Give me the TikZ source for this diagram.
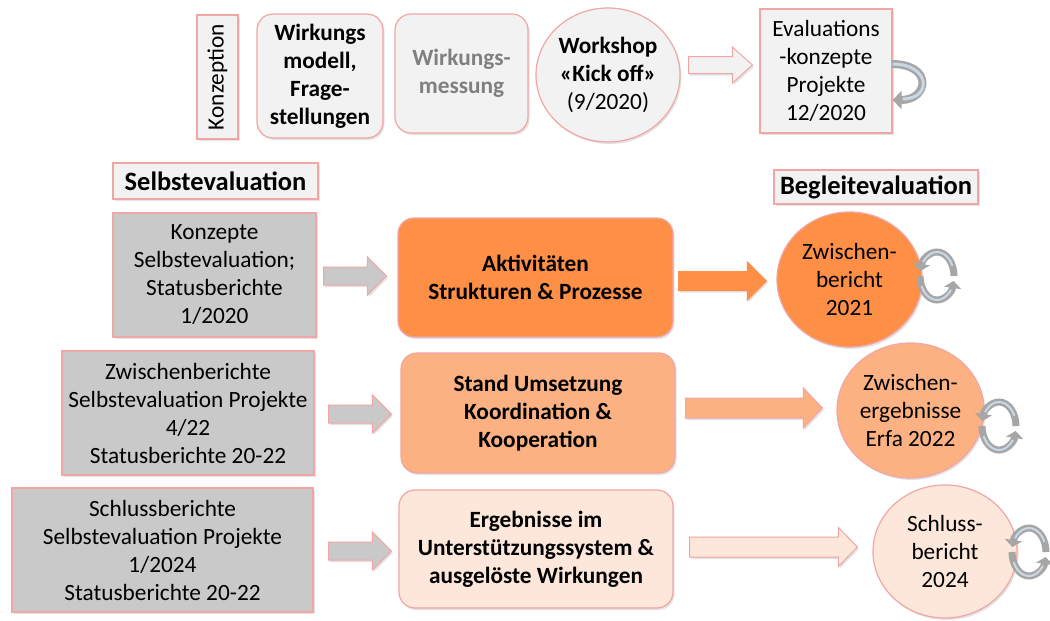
\documentclass[tikz,border=0pt]{standalone}
\usepackage{fontspec}
\setmainfont{Carlito}
\usetikzlibrary{shapes.geometric,shadows,arrows.meta,calc}
\definecolor{pinkc}{HTML}{F2A5A5}
\definecolor{lgray}{HTML}{F2F2F2}
\definecolor{mgray}{HTML}{C9C9C9}
\definecolor{orA}{HTML}{FD8F46}
\definecolor{orB}{HTML}{FBB182}
\definecolor{orC}{HTML}{FDE7DA}
\definecolor{txtgray}{HTML}{7F7F7F}
\definecolor{cycc}{HTML}{A6A6A6}
\definecolor{cycin}{HTML}{C8D8E6}
\tikzset{
  shd/.style={drop shadow={opacity=0.22, shadow xshift=1.5pt, shadow yshift=-2pt}},
  base/.style={draw=pinkc, line width=1.2pt, align=center, text=black,
    font=\fontsize{23.3}{28}\selectfont, inner sep=0pt, shd},
  sqbox/.style={base, rectangle},
  rbox/.style={base, rectangle, rounded corners=16pt},
  oval/.style={base, ellipse},
  headbox/.style={base, fill=lgray, font=\fontsize{26.5}{32}\selectfont\bfseries},
  barrow/.style={draw=pinkc, line width=1pt, shd},
  cycarrow/.style={draw=cycc, line width=7pt, -{Triangle[width=17pt,length=7pt]}},
}
\newcommand{\blockarr}[6]{%
  \path[#1] let \p1=#2, \p2=#3 in
   (\x1,\y1+#4pt) -- (\x2-#6pt,\y1+#4pt) -- (\x2-#6pt,\y1+#5pt) -- (\x2,\y1)
   -- (\x2-#6pt,\y1-#5pt) -- (\x2-#6pt,\y1-#4pt) -- (\x1,\y1-#4pt) -- cycle;}
\newcommand{\cycleicon}[1]{%
  \begin{scope}[shift={#1}, x=1pt, y=1pt]
    \draw[cycarrow] (0:17pt and 24pt) arc[start angle=0, end angle=168, x radius=17pt, y radius=24pt];
    \draw[cycarrow] (180:17pt and 24pt) arc[start angle=180, end angle=348, x radius=17pt, y radius=24pt];
    \draw[cycin, line width=2pt] (25:17pt and 24pt) arc[start angle=25, end angle=145, x radius=17pt, y radius=24pt];
    \draw[cycin, line width=2pt] (205:17pt and 24pt) arc[start angle=205, end angle=325, x radius=17pt, y radius=24pt];
  \end{scope}}
\begin{document}
\begin{tikzpicture}[x=1pt,y=-1pt]
\path[use as bounding box, fill=white] (0,0) rectangle (1050,621);

% top row
\node[sqbox, fill=lgray, rotate=90, minimum width=124, minimum height=41] (konz) at (217.5,77) {Konzeption};
\node[rbox, fill=lgray, minimum width=126, minimum height=124, font=\fontsize{23.3}{28}\selectfont\bfseries] (wm) at (320,76) {Wirkungs\\modell,\\Frage-\\stellungen};
\node[rbox, fill=lgray, minimum width=133, minimum height=119, text=txtgray, font=\fontsize{23.3}{28}\selectfont\bfseries] (wmess) at (461.5,73.5) {Wirkungs-\\messung};
\node[oval, fill=lgray, minimum width=144, minimum height=134] (ws) at (608,75) {\textbf{Workshop}\\\textbf{«Kick off»}\\(9/2020)};
\node[sqbox, fill=lgray, minimum width=132, minimum height=124] (ev) at (826,71) {Evaluations\\-konzepte\\Projekte\\12/2020};

% headers
\node[headbox, minimum width=205, minimum height=36] (selb) at (215.5,181) {Selbstevaluation};
\node[headbox, minimum width=204, minimum height=34] (begl) at (876,187) {Begleitevaluation};

% left column
\node[sqbox, fill=mgray, minimum width=203, minimum height=124] (k1) at (214.5,275) {Konzepte\\Selbstevaluation;\\Statusberichte\\1/2020};
\node[sqbox, fill=mgray, minimum width=252, minimum height=124] (k2) at (188,413) {Zwischenberichte\\Selbstevaluation Projekte\\4/22\\Statusberichte 20-22};
\node[sqbox, fill=mgray, minimum width=301, minimum height=124] (k3) at (162.5,550) {Schlussberichte\\Selbstevaluation Projekte\\1/2024\\Statusberichte 20-22};

% middle column
\node[rbox, fill=orA, minimum width=275, minimum height=119, font=\fontsize{23.3}{28}\selectfont\bfseries] (akt) at (535.5,277.5) {Aktivitäten\\Strukturen \& Prozesse};
\node[rbox, fill=orB, minimum width=274, minimum height=120, font=\fontsize{23.3}{28}\selectfont\bfseries] (stand) at (538,413) {Stand Umsetzung\\Koordination \&\\Kooperation};
\node[rbox, fill=orC, minimum width=274, minimum height=118, font=\fontsize{23.3}{28}\selectfont\bfseries] (erg) at (536,549) {Ergebnisse im\\Unterstützungssystem \&\\ausgelöste Wirkungen};

% right column
\node[oval, fill=orA, minimum width=145, minimum height=135] (c1) at (849.5,279.5) {Zwischen-\\bericht\\2021};
\node[oval, fill=orB, minimum width=147, minimum height=135] (c2) at (910.5,410.5) {Zwischen-\\ergebnisse\\Erfa 2022};
\node[oval, fill=orC, minimum width=144, minimum height=133] (c3) at (945,551.5) {Schluss-\\bericht\\2024};

% block arrows
\blockarr{barrow, fill=lgray}{($(ws.east)+(8,-10)$)}{($(ev.west)+(-7,0)$)}{8.5}{18}{20}
\blockarr{barrow, fill=mgray}{($(k1.east)+(7,1)$)}{($(akt.west)+(-11,0)$)}{9}{19}{19}
\blockarr{barrow, fill=orA, draw=orA}{($(akt.east)+(5,3.5)$)}{($(c1.west)+(-10,0)$)}{9.5}{19}{19}
\blockarr{barrow, fill=mgray}{($(k2.east)+(14,1)$)}{($(stand.west)+(-9,0)$)}{9}{19}{19}
\blockarr{barrow, fill=orB}{($(stand.east)+(10,-5)$)}{($(c2.west)+(-14,0)$)}{10}{20}{19}
\blockarr{barrow, fill=mgray}{($(k3.east)+(15,1)$)}{($(erg.west)+(-7,0)$)}{9}{19}{19}
\blockarr{barrow, fill=orC}{($(erg.east)+(16,-2)$)}{($(c3.west)+(-15,0)$)}{10}{19.5}{19}

% U-turn arrow at evaluation concepts
\draw[draw=cycc, line width=8pt, -{Triangle[width=18pt,length=9pt]}]
  ($(ev.east)+(-1,-7)$) .. controls +(42,0) and +(36,0) .. ($(ev.east)+(0,29)$);
\draw[draw=cycin, line width=3pt]
  ($(ev.east)+(0,-7)$) .. controls +(38,0) and +(30,0) .. ($(ev.east)+(10,28)$);

% cycle icons
\cycleicon{(937,276)}
\cycleicon{(999,426)}
\cycleicon{(1029,552)}
\end{tikzpicture}
\end{document}
